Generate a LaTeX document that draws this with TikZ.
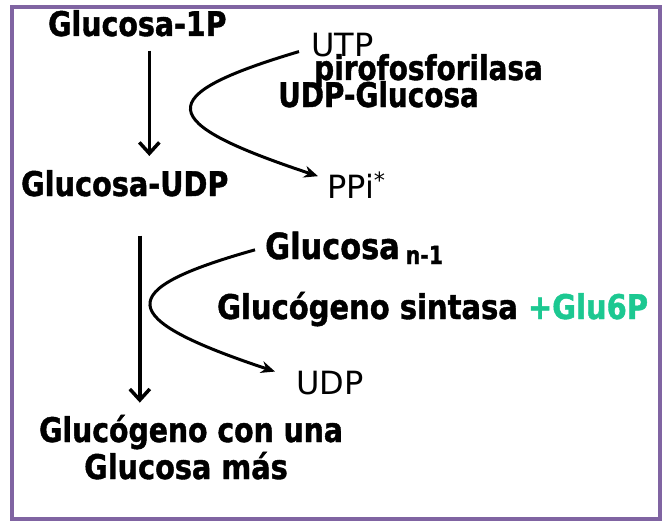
\documentclass[tikz,border=0pt]{standalone}
\usepackage{fontspec}
\setmainfont{DejaVu Sans}[FakeStretch=0.82, BoldFeatures={FakeBold=1.2}]
\newfontfamily\regfont{DejaVu Sans}
\usetikzlibrary{arrows.meta}
\definecolor{frame}{RGB}{128,100,162}
\definecolor{glu}{RGB}{28,200,145}
\tikzset{
  lbl/.style={anchor=base west, inner sep=0pt, font=\fontsize{34}{40}\selectfont\bfseries},
  reg/.style={anchor=base west, inner sep=0pt, font=\fontsize{32}{38}\selectfont\regfont},
  varr/.style={line width=3.5pt, -{Straight Barb[length=11pt,width=20pt]}},
  carr/.style={line width=3pt, -{Stealth[length=14pt,width=12pt]}}
}
\begin{document}
\begin{tikzpicture}[x=1pt,y=-1pt]
\useasboundingbox (0,0) rectangle (668,524);
\draw[frame, line width=4pt] (12,7) rectangle (660,519);
\node[lbl] (g1p) at (48,36) {\scalebox{1.02}[1]{Glucosa-1P}};
\node[reg] (utp) at (311,57) {UTP};
\node[lbl] (piro) at (314,80) {pirofosforilasa};
\node[lbl] (udpg) at (278,107) {UDP-Glucosa};
\node[lbl] (gudp) at (21,196) {\scalebox{1.03}[1]{Glucosa-UDP}};
\node[reg] (ppi) at (327,198) {PPi\textsuperscript{*}};
\node[lbl, font=\fontsize{36}{42}\selectfont\bfseries] (gn) at (265,259) {\scalebox{1.03}[1]{Glucosa}\hspace{6pt}\raisebox{-5pt}{\fontsize{25}{28}\selectfont n-1}};
\node[lbl] (gs) at (217,319) {\scalebox{1.04}[1]{Glucógeno sintasa \textcolor{glu}{+Glu6P}}};
\node[reg] (udp) at (296,394) {UDP};
\node[lbl] (gm1) at (39,442) {\scalebox{1.015}[1]{Glucógeno con una}};
\node[lbl, anchor=base] (gm2) at (186,479) {\scalebox{1.03}[1]{Glucosa más}};
\draw[varr] ([xshift=12pt,yshift=-14pt]g1p.south) coordinate (a1) -- ([yshift=14pt]a1 |- gudp.north);
\draw[varr] ([xshift=15pt,yshift=-39pt]gudp.south) coordinate (a2) -- ([yshift=12pt]a2 |- gm1.north);
\draw[carr] ([xshift=-12pt,yshift=-6pt]utp.west) .. controls (150,96) and (155,122) .. ([xshift=-9pt,yshift=9pt]ppi.west);
\draw[carr] ([xshift=-10pt,yshift=-2pt]gn.west) .. controls (112,290) and (114,318) .. ([xshift=-21pt,yshift=11pt]udp.west);
\end{tikzpicture}
\end{document}
